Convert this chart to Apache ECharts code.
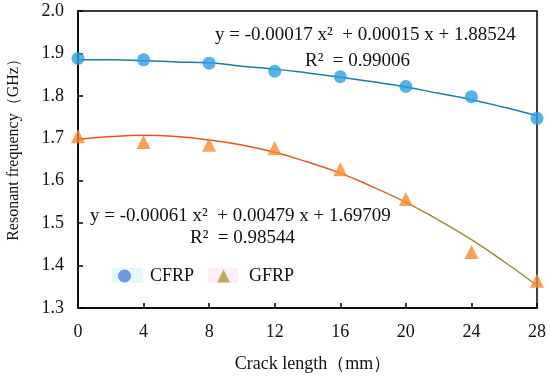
<!DOCTYPE html>
<html><head><meta charset="utf-8">
<script src="https://cdn.jsdelivr.net/npm/echarts@6/dist/echarts.min.js"></script>
<style>html,body{margin:0;padding:0;background:#fff}#c{width:550px;height:378px}</style>
</head><body><div id="c"></div>
<script>
const crackLength = [0, 4, 8, 12, 16, 20, 24, 28];
const cfrpValues = [1.888, 1.885, 1.877, 1.858, 1.845, 1.822, 1.798, 1.747];
const gfrpValues = [1.705, 1.691, 1.685, 1.677, 1.627, 1.557, 1.432, 1.364];
const fitX = [0, 2, 4, 6, 8, 10, 12, 14, 16, 18, 20, 22, 24, 26, 28];
const cfrpFit = [1.885, 1.885, 1.883, 1.880, 1.878, 1.870, 1.863, 1.854, 1.844, 1.833, 1.821, 1.806, 1.791, 1.773, 1.753];
const gfrpFit = [1.697, 1.704, 1.707, 1.704, 1.696, 1.684, 1.667, 1.644, 1.618, 1.585, 1.549, 1.507, 1.461, 1.409, 1.353];
const xTicks = [0, 4, 8, 12, 16, 20, 24, 28];
const yTicks = [1.3, 1.4, 1.5, 1.6, 1.7, 1.8, 1.9, 2.0];
const xTitle = 'Crack length\uFF08mm\uFF09';
const yTitle = 'Resonant frequency\uFF08GHz\uFF09';
const cfrpEquation = 'y = -0.00017 x\u00B2  + 0.00015 x + 1.88524';
const cfrpR2 = 'R\u00B2  = 0.99006';
const gfrpEquation = 'y = -0.00061 x\u00B2  + 0.00479 x + 1.69709';
const gfrpR2 = 'R\u00B2  = 0.98544';

const pairs = (xs, ys) => xs.map((x, i) => [x, ys[i]]);
const font = '"Liberation Serif", "Times New Roman", serif';
const fs = 18;
const txt = (x, y, text, size, extra) => Object.assign({ type: 'text', x: x, y: y, z: 10,
  style: { text: text, font: size + 'px ' + font, fill: '#111', align: 'left', verticalAlign: 'middle' } }, extra || {});
const chart = echarts.init(document.getElementById('c'));
chart.setOption({
  animation: false,
  textStyle: { fontFamily: font },
  grid: { left: 78, right: 13, top: 11, bottom: 70, containLabel: false, outerBoundsMode: 'none',
    show: true, borderColor: '#000', borderWidth: 1.5 },
  xAxis: {
    type: 'value', min: xTicks[0], max: xTicks[xTicks.length - 1], interval: 4,
    axisLine: { lineStyle: { color: '#000', width: 1.5 } },
    axisTick: { inside: true, length: 5, lineStyle: { color: '#000', width: 1.5 } },
    axisLabel: { fontFamily: font, fontSize: fs, color: '#111', margin: 15 },
    splitLine: { show: false }
  },
  yAxis: {
    type: 'value', min: yTicks[0], max: yTicks[yTicks.length - 1], interval: 0.1,
    axisLine: { lineStyle: { color: '#000', width: 1.5 } },
    axisTick: { inside: true, length: 5, lineStyle: { color: '#000', width: 1.5 } },
    axisLabel: { fontFamily: font, fontSize: fs, color: '#111', margin: 14, formatter: v => v.toFixed(1) },
    splitLine: { show: false }
  },
  legend: {
    left: 113, top: 262, itemGap: 23, itemWidth: 13, itemHeight: 13,
    textStyle: { fontFamily: font, fontSize: fs, color: '#111', padding: [0, 0, 0, 14] },
    data: [
      { name: 'CFRP', icon: 'circle', itemStyle: { color: '#4a80d8' } },
      { name: 'GFRP', icon: 'triangle', itemStyle: { color: '#b09a2c' } }
    ]
  },
  series: [
    { name: 'CFRP fit', type: 'line', data: pairs(fitX, cfrpFit), smooth: true, showSymbol: false,
      lineStyle: { color: '#1a7db0', width: 1.5 }, z: 1 },
    { name: 'GFRP fit', type: 'line', data: pairs(fitX, gfrpFit), smooth: true, showSymbol: false,
      lineStyle: { width: 1.5, color: { type: 'linear', x: 0, y: 0, x2: 1, y2: 0, colorStops: [
        { offset: 0, color: '#f04e1e' }, { offset: 0.64, color: '#ec5a1c' },
        { offset: 0.72, color: '#a58a26' }, { offset: 1, color: '#9c8a28' } ] } }, z: 1 },
    { name: 'CFRP', type: 'scatter', data: pairs(crackLength, cfrpValues), symbol: 'circle', symbolSize: 13,
      itemStyle: { color: '#2d9fe0' }, z: 3 },
    { name: 'GFRP', type: 'scatter', data: pairs(crackLength, gfrpValues), symbol: 'triangle', symbolSize: 14,
      itemStyle: { color: '#f98a2c' }, z: 3 }
  ],
  graphic: [
    { type: 'rect', shape: { x: 112, y: 268, width: 31, height: 15 }, style: { fill: '#e4fafa' }, z: -1 },
    { type: 'rect', shape: { x: 208, y: 268, width: 30, height: 15 }, style: { fill: '#fdeefa' }, z: -1 },
    txt(215, 35, cfrpEquation, 19),
    txt(305, 61, cfrpR2, 19),
    txt(90, 216, gfrpEquation, 19),
    txt(190, 238, gfrpR2, 19),
    txt(313, 364, xTitle, 18, { style: { text: xTitle, font: '18px ' + font, fill: '#111', align: 'center', verticalAlign: 'middle' } }),
    txt(14, 146, yTitle, 16, { rotation: Math.PI / 2, style: { text: yTitle, font: '16px ' + font, fill: '#111', align: 'center', verticalAlign: 'middle' } })
  ]
});
</script></body></html>
